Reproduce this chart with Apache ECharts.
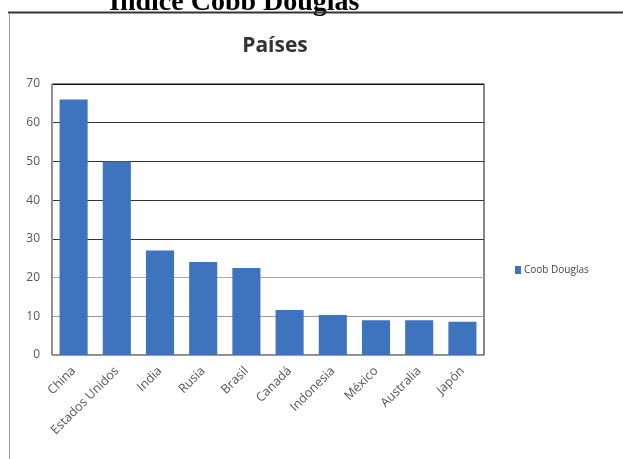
<!DOCTYPE html>
<html><head><meta charset="utf-8">
<script src="https://cdn.jsdelivr.net/npm/echarts@6/dist/echarts.min.js"></script>
<style>html,body{margin:0;padding:0;background:#fff}#c{width:623px;height:459px}</style>
</head><body><div id="c"></div>
<script>
const categories = ['China','Estados Unidos','India','Rusia','Brasil','Canadá','Indonesia','México','Australia','Japón'];
const cobbDouglas = [66, 50, 27, 24, 22.5, 11.6, 10.3, 9, 9, 8.6];
const yTicks = [0, 10, 20, 30, 40, 50, 60, 70];
const seriesName = 'Coob Douglas';
const chartTitle = 'Países';
const pageTitle = 'Índice Cobb Douglas';

const chart = echarts.init(document.getElementById('c'), null, {renderer:'canvas'});
chart.setOption({
  animation: false,
  backgroundColor: '#fff',
  title: {
    text: chartTitle, left: 270, top: 31, textAlign: 'center',
    textStyle: {fontFamily: 'Open Sans', fontWeight: 'bold', fontSize: 21, color: '#333'}
  },
  legend: {
    data: [seriesName], left: 510, top: 260, orient: 'vertical',
    icon: 'rect', itemWidth: 6, itemHeight: 8, itemGap: 4,
    textStyle: {fontFamily: 'Open Sans', fontSize: 10, color: '#444', padding: [0,0,0,-2]}
  },
  grid: {left: 52, right: 139, top: 84, bottom: 104, show: true, borderColor: '#111', borderWidth: 1, backgroundColor: 'transparent'},
  xAxis: {
    type: 'category', data: categories,
    axisLine: {lineStyle: {color: '#999'}},
    axisTick: {show: false},
    axisLabel: {rotate: 45, margin: 14, fontFamily: 'Open Sans', fontSize: 12.5, color: '#555', interval: 0}
  },
  yAxis: {
    type: 'value', min: yTicks[0], max: yTicks[yTicks.length-1], interval: 10,
    axisLine: {show: true, lineStyle: {color: '#999'}},
    axisTick: {show: false},
    axisLabel: {margin: 12, fontFamily: 'Open Sans', fontSize: 12, color: '#555'},
    splitLine: {lineStyle: {color: ['#999','#999','#aaa','#333','#333','#333','#333','#111']}}
  },
  series: [{
    name: seriesName, type: 'bar', data: cobbDouglas,
    barCategoryGap: '35%',
    itemStyle: {color: '#3D74BD'}
  }],
  graphic: [
    {type: 'text', x: 109, y: 17, z: 10, style: {text: pageTitle, font: 'bold 28px "Liberation Serif"', fill: '#000', textAlign: 'left', verticalAlign: 'bottom'}},
    {type: 'line', z: 20, shape: {x1: 8, y1: 12.5, x2: 623, y2: 12.5}, style: {stroke: '#333', lineWidth: 2}},
    {type: 'line', z: 20, shape: {x1: 9.5, y1: 13, x2: 9.5, y2: 459}, style: {stroke: '#999', lineWidth: 1}}
  ]
});
</script></body></html>
